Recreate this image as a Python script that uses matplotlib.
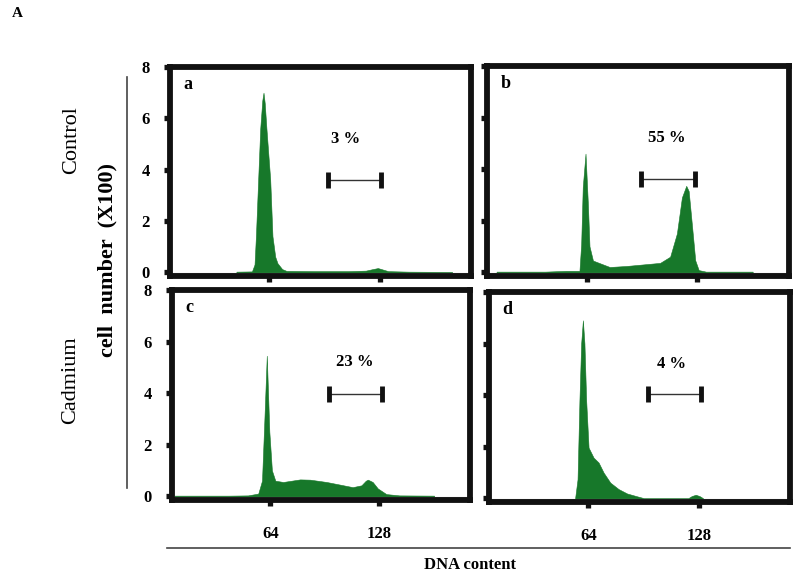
import matplotlib
matplotlib.use("Agg")
import matplotlib.pyplot as plt
from matplotlib.lines import Line2D

plt.rcParams['font.family'] = ['Liberation Serif', 'DejaVu Serif']

GREEN = '#17782a'

# DNA content (x) and cell number x100 (y)
a_x = [45, 54, 55.5, 56.3, 57.6, 58.8, 60.0, 60.7, 61.4, 62.4, 64.6, 65.9, 67.5, 68.8,
       71.5, 74, 90, 110, 120, 124, 127, 130, 133, 145, 170]
a_y = [0.02, 0.03, 0.3, 1.4, 3.6, 5.6, 6.7, 7.0, 6.6, 5.6, 3.6, 1.4, 0.6, 0.35,
       0.12, 0.05, 0.04, 0.04, 0.06, 0.12, 0.16, 0.1, 0.04, 0.02, 0.01]

b_x = [12, 40, 52, 59.9, 60.9, 61.8, 63.4, 64.8, 65.7, 67.7, 73.5, 77.4, 87.1, 96.8,
       106.5, 112.3, 116.2, 119.1, 121.6, 123.0, 125.0, 126.8, 128.8, 133, 160]
b_y = [0.02, 0.02, 0.05, 0.05, 1.1, 3.3, 4.6, 2.6, 1.0, 0.45, 0.3, 0.2, 0.24, 0.3,
       0.36, 0.6, 1.5, 2.9, 3.35, 3.15, 1.75, 0.46, 0.08, 0.02, 0.02]

c_x = [8, 40, 51, 57, 59.2, 60.5, 62.0, 63.5, 65.0, 67.0, 71.6, 81.5, 87.3, 97.0,
       104.7, 112.3, 117.4, 120.0, 121.2, 124.0, 127.0, 132.0, 139.6, 160]
c_y = [0.02, 0.02, 0.03, 0.1, 0.6, 2.8, 5.45, 2.5, 1.0, 0.6, 0.55, 0.65, 0.64, 0.55,
       0.45, 0.35, 0.42, 0.6, 0.64, 0.55, 0.3, 0.08, 0.03, 0.02]

d_x = [56.4, 57.8, 58.9, 59.9, 60.9, 61.8, 62.8, 64.2, 67.1, 70.0, 72.9, 76.8, 81.6,
       86.5, 92.3, 96.2, 122, 124, 126.3, 128.5, 130.5]
d_y = [0.0, 0.73, 3.8, 6.0, 6.9, 6.0, 3.8, 1.96, 1.57, 1.38, 0.99, 0.6, 0.35,
       0.18, 0.07, 0.0, 0.0, 0.08, 0.13, 0.08, 0.0]

panel_letters = ['a', 'b', 'c', 'd']
percent_labels = ['3 %', '55 %', '23 %', '4 %']
percent_x = [108.2, 110.4, 113.5, 112.1]
bracket_start = [98.3, 95.4, 98.3, 98.5]
bracket_end = [129.0, 126.7, 129.3, 129.2]
bracket_y = [3.6, 3.6, 3.96, 4.04]

y_ticks = [0, 2, 4, 6, 8]
x_ticks = [64, 128]
x_tick_labels = ['64', '128']

series = [(a_x, a_y), (b_x, b_y), (c_x, c_y), (d_x, d_y)]
rects = [
    [0.2125, 0.5208, 0.3763, 0.3628],
    [0.6088, 0.5208, 0.3775, 0.3646],
    [0.2150, 0.1319, 0.3725, 0.3646],
    [0.6113, 0.1285, 0.3763, 0.3646],
]

fig = plt.figure(figsize=(8, 5.76), dpi=100)

for i in range(4):
    ax = fig.add_axes(rects[i])
    xs, ys = series[i]
    ax.fill_between(xs, ys, -0.2, color=GREEN, lw=0.4, edgecolor=GREEN)
    ax.axhline(-0.02, color='#999999', lw=0.8, zorder=1)
    ax.set_xlim(6.5, 181)
    ax.set_ylim(-0.15, 8)
    for s in ax.spines.values():
        s.set_linewidth(4.2)
        s.set_color('#111111')
    ax.set_yticks(y_ticks)
    ax.set_xticks(x_ticks)
    ax.tick_params(direction='out', length=4.5, width=3.8, color='#111111', pad=10)
    ax.tick_params(axis='x', pad=14)
    if i % 2 == 0:
        ax.set_yticklabels([str(t) for t in y_ticks], fontsize=12, fontweight='bold')
    else:
        ax.set_yticklabels([])
    if i >= 2:
        ax.set_xticklabels(x_tick_labels, fontsize=12, fontweight='bold')
    else:
        ax.set_xticklabels([])

    ax.text(0.045, 0.955, panel_letters[i], transform=ax.transAxes, ha='left', va='top',
            fontsize=13, fontweight='bold')
    ax.text(percent_x[i], 5.2, percent_labels[i], ha='center', va='center',
            fontsize=12, fontweight='bold')
    bx = [bracket_start[i], bracket_end[i]]
    by = [bracket_y[i], bracket_y[i]]
    ax.plot(bx, by, color='#333333', lw=1.0)
    ax.plot(bx, by, ls='none', marker='|', ms=11, mew=3.5, color='#111111')

# outer labels and guide lines
fig.text(0.015, 0.976, 'A', fontsize=11, fontweight='bold', ha='left', va='center')
fig.text(0.09, 0.757, 'Control', rotation=90, fontsize=16, ha='center', va='center')
fig.text(0.088, 0.34, 'Cadmium', rotation=90, fontsize=16, ha='center', va='center')
fig.text(0.134, 0.549, 'cell  number  (X100)', rotation=90, fontsize=16,
         fontweight='bold', ha='center', va='center')
fig.text(0.5875, 0.019, 'DNA content', fontsize=12, fontweight='bold',
         ha='center', va='center')
fig.add_artist(Line2D([0.159, 0.159], [0.1528, 0.8663], color='#444444', lw=1.2,
                      transform=fig.transFigure))
fig.add_artist(Line2D([0.209, 0.9875], [0.0486, 0.0486], color='#444444', lw=1.2,
                      transform=fig.transFigure))

fig.savefig('out.png', dpi=100)
